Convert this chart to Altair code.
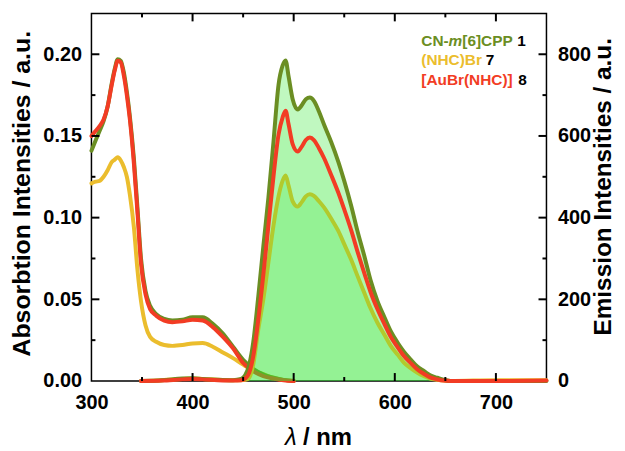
import altair as alt
import pandas as pd

# ---------------- data ----------------
abs_wl = [300, 304, 308, 312, 316, 320, 323, 326, 329, 332, 335, 338, 342, 345.5, 349,
          353.5, 358, 364, 372, 380, 390, 400, 410, 420, 430, 440, 450, 460, 470, 480, 490, 500]
abs_cpp = [0.141, 0.147, 0.153, 0.159, 0.168, 0.182, 0.191, 0.197, 0.196, 0.189, 0.177, 0.162,
           0.136, 0.106, 0.075, 0.055, 0.046, 0.041, 0.038, 0.037, 0.0375, 0.039, 0.039, 0.035,
           0.029, 0.021, 0.013, 0.0075, 0.004, 0.002, 0.0007, 0.0]
abs_nhcbr = [0.121, 0.122, 0.1225, 0.125, 0.129, 0.134, 0.1355, 0.137, 0.135, 0.131, 0.125, 0.114,
             0.094, 0.068, 0.049, 0.034, 0.027, 0.024, 0.022, 0.0215, 0.022, 0.023, 0.0232, 0.021,
             0.0175, 0.014, 0.010, 0.0065, 0.0042, 0.002, 0.0007, 0.0]
abs_aubr = [0.150, 0.153, 0.156, 0.160, 0.168, 0.181, 0.190, 0.196, 0.195, 0.187, 0.175, 0.160,
            0.133, 0.103, 0.072, 0.053, 0.044, 0.040, 0.037, 0.036, 0.0365, 0.0375, 0.037, 0.033,
            0.027, 0.020, 0.011, 0.006, 0.003, 0.0015, 0.0005, 0.0]

em_wl = [349, 370, 390, 400, 410, 425, 440, 448, 452, 456, 460, 465, 470, 475, 480, 485, 489,
         492, 495, 499, 504, 508, 512, 516, 520, 525, 530, 537, 544, 550, 557, 563, 570, 576,
         583, 590, 596, 603, 609, 616, 622, 629, 635, 642, 648, 655, 700, 750]
em_cpp = [0, 2, 6, 7, 5, 3, 2, 5, 14, 40, 95, 207, 330, 449, 585, 725, 772, 785, 745, 690, 665,
          675, 690, 694, 686, 660, 628, 586, 538, 490, 428, 368, 305, 247, 195, 155, 122, 93, 72,
          52, 36, 24, 14, 8, 3, 0, 0, 0]
em_nhcbr = [0, 2, 5, 6, 5, 3, 2, 2, 3, 8, 40, 126, 200, 290, 380, 452, 490, 503, 478, 440, 427,
            438, 452, 457, 453, 440, 425, 398, 368, 335, 296, 258, 215, 178, 142, 112, 86, 64, 45,
            31, 21, 12, 6, 3, 1, 0, 2, 2]
em_aubr = [0, 1, 4, 5, 4, 2, 1, 2, 6, 20, 60, 150, 260, 380, 500, 603, 645, 662, 628, 580, 562,
           574, 590, 596, 590, 570, 546, 505, 462, 420, 368, 318, 263, 218, 175, 138, 108, 82, 61,
           43, 29, 17, 9, 4, 1, 0, 0, 1]

# axis labels and tick positions
x_labels = [300, 400, 500, 600, 700]
x_major = [400, 500, 600, 700]
x_minor = [350, 450, 550, 650]
ya_labels = [0, 0.05, 0.1, 0.15, 0.2]
ya_major = [0.05, 0.1, 0.15, 0.2]
ya_minor = [0.025, 0.075, 0.125, 0.175]
ye_labels = [0, 200, 400, 600, 800]
ye_major = [200, 400, 600, 800]
ye_minor = [100, 300, 500, 700]

abs_df = pd.DataFrame({"wl": abs_wl, "cpp": abs_cpp, "nhc": abs_nhcbr, "au": abs_aubr})
em_df = pd.DataFrame({"wl": em_wl, "cpp": em_cpp, "nhc": em_nhcbr, "au": em_aubr})
one = pd.DataFrame({"k": [0]})

# ---------------- styling ----------------
FONT = "Liberation Sans"
OLIVE = "#6b8e23"
YELLOW = "#ebbd2d"
RED = "#f23c24"
FILL = "#2ee82e"
W, H = 458, 370
MAJ, MIN, THICK = 8, 4, 2

base = dict(grid=False, domain=False, ticks=False, labelFont=FONT, labelFontSize=20,
            labelFontWeight="bold", labelColor="black", labelFlush=False,
            labelOverlap=False)

x_axis = alt.Axis(orient="bottom", values=x_labels, format="d",
                  labelPadding=12, title=None, **base)
ya_axis = alt.Axis(orient="left", values=ya_labels, format=".2f", labelPadding=10,
                   title="Absorbtion Intensities / a.u.", titleFont=FONT,
                   titleFontSize=25, titleFontWeight="bold", titleColor="black",
                   titlePadding=8, titleY=181, **base)
ye_axis = alt.Axis(orient="right", values=ye_labels, format="d", labelPadding=11,
                   title="Emission Intensities / a.u.", titleFont=FONT,
                   titleFontSize=24.5, titleFontWeight="bold", titleColor="black",
                   titleAngle=270, titleBaseline="top", titlePadding=1, titleY=174, **base)

X = alt.X("wl:Q", scale=alt.Scale(domain=[300, 750], nice=False, zero=False), axis=x_axis)


def ya(field, show=False):
    return alt.Y(f"{field}:Q", scale=alt.Scale(domain=[0, 0.225], nice=False),
                 axis=ya_axis if show else None)


def ye(field, show=False):
    return alt.Y(f"{field}:Q", scale=alt.Scale(domain=[0, 900], nice=False),
                 axis=ye_axis if show else None)


def line(df, y, color):
    return alt.Chart(df).mark_line(color=color, strokeWidth=4, strokeCap="round",
                                   strokeJoin="round", interpolate="monotone").encode(x=X, y=y)


def area(df, y, opacity):
    return alt.Chart(df).mark_area(color=FILL, opacity=opacity,
                                   interpolate="monotone").encode(x=X, y=y)


def xtick(vals, length, top):
    y0 = 0 if top else H
    y1 = length if top else H - length
    return alt.Chart(pd.DataFrame({"wl": vals})).mark_rule(
        color="black", strokeWidth=THICK
    ).encode(x=X, y=alt.value(y0), y2=alt.value(y1))


def ytick(vals, length, yfun, right):
    x0 = W if right else 0
    x1 = W - length if right else length
    return alt.Chart(pd.DataFrame({"v": vals})).mark_rule(
        color="black", strokeWidth=THICK
    ).encode(y=yfun("v"), x=alt.value(x0), x2=alt.value(x1))


def txt(s, x, y, color, size=15.5, italic=False, bold=True):
    return alt.Chart(one).mark_text(
        text=s, font=FONT, fontSize=size, fontWeight="bold" if bold else "normal",
        fontStyle="italic" if italic else "normal", color=color, align="left",
        baseline="alphabetic").encode(x=alt.value(x), y=alt.value(y))


layers = [
    # absorption
    line(abs_df, ya("nhc", show=True), YELLOW),
    line(abs_df, ya("cpp"), OLIVE),
    line(abs_df, ya("au"), RED),
    # emission
    area(em_df, ye("nhc"), 0.2),
    area(em_df, ye("au"), 0.12),
    line(em_df, ye("nhc"), YELLOW),
    area(em_df, ye("cpp"), 0.3),
    line(em_df, ye("cpp", show=True), OLIVE),
    line(em_df, ye("au"), RED),
    # inward frame ticks
    xtick(x_major, MAJ, False), xtick(x_minor, MIN, False),
    xtick(x_major, MAJ, True), xtick(x_minor, MIN, True),
    ytick(ya_major, MAJ, ya, False), ytick(ya_minor, MIN, ya, False),
    ytick(ye_major, MAJ, ye, True), ytick(ye_minor, MIN, ye, True),
    # legend and x title
    txt("CN-", 332, 32.3, OLIVE),
    txt("m", 359.5, 32.3, OLIVE, italic=True),
    txt("[6]CPP", 373.3, 32.3, OLIVE),
    txt("1", 428.7, 32.3, "black"),
    txt("(NHC)Br", 332, 52.3, YELLOW),
    txt("7", 397, 52.3, "black"),
    txt("[AuBr(NHC)]", 332, 72.3, RED),
    txt("8", 429.7, 72.3, "black"),
    txt("λ", 194.7, 434, "black", size=24, italic=True, bold=False),
    txt("/ nm", 213, 434, "black", size=24),
]

chart = alt.layer(*layers).resolve_scale(y="independent").properties(
    width=W, height=H,
    autosize=alt.AutoSizeParams(type="none"),
    padding={"left": 84, "top": 4, "right": 71, "bottom": 69},
).configure_view(stroke="black", strokeWidth=1.5)

chart.save("out.html", embed_options={"renderer": "svg", "actions": False})
